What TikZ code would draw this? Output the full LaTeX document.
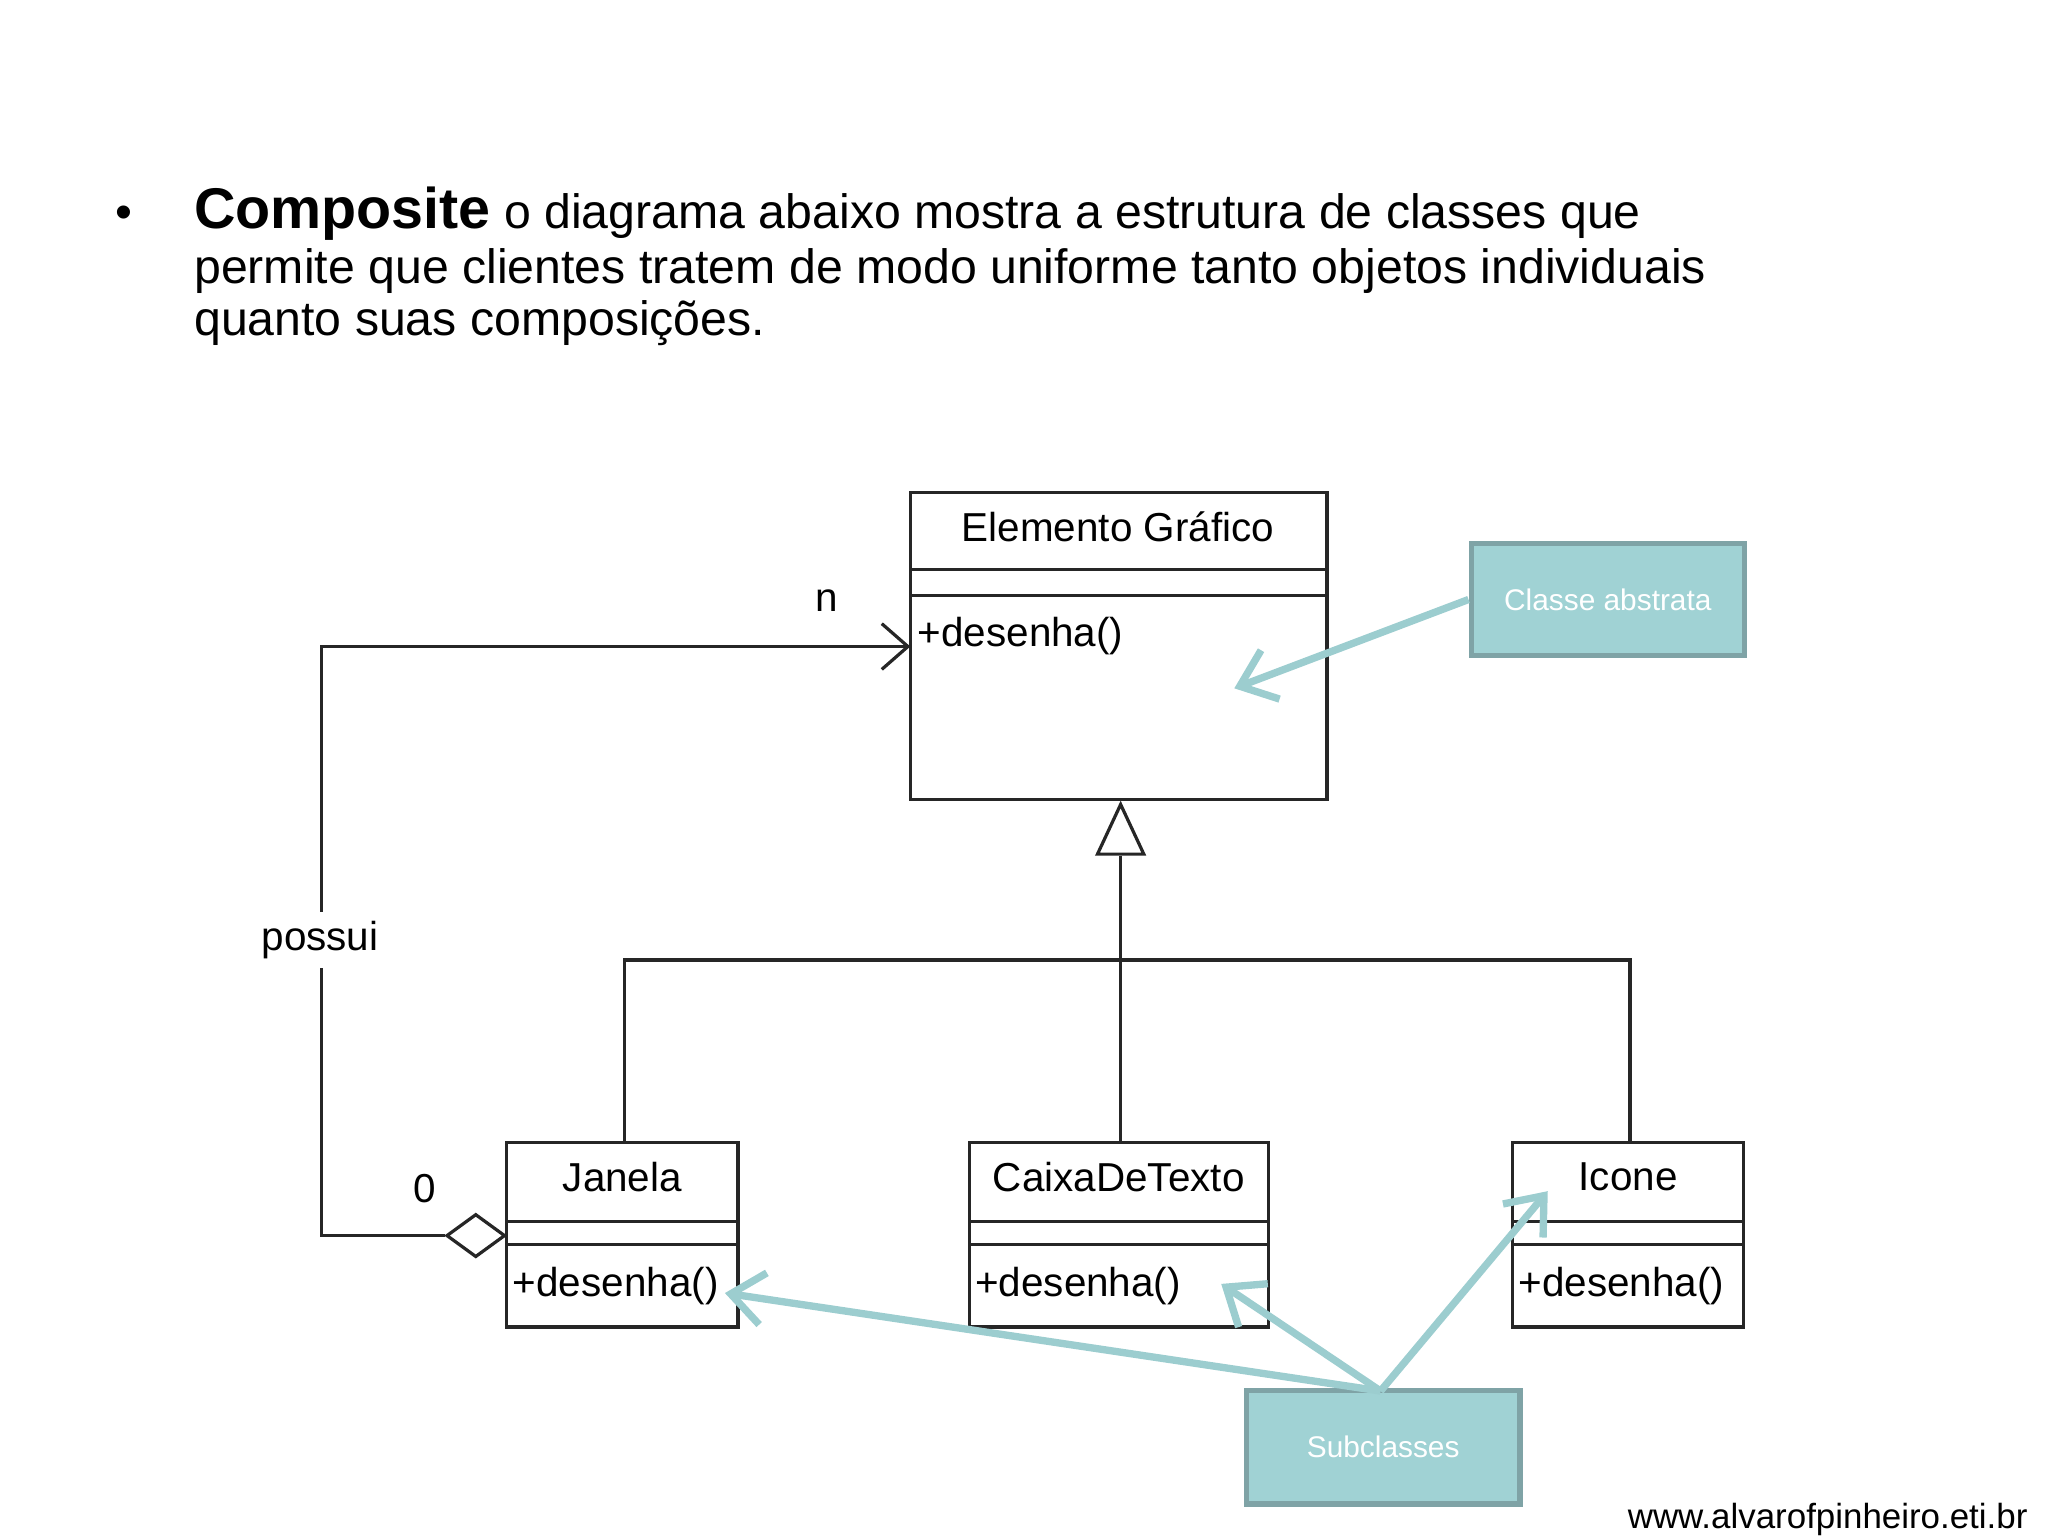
\documentclass[tikz,border=0pt]{standalone}
\usepackage{fontspec}
\setmainfont{Liberation Sans}
\usetikzlibrary{arrows.meta,shapes.geometric}
\definecolor{callfill}{HTML}{A0D2D4}
\definecolor{calldraw}{HTML}{7FA3A6}
\definecolor{callarrow}{HTML}{9CCDCF}
\begin{document}
\begin{tikzpicture}[x=0.01cm,y=-0.01cm,
  uml/.style={draw=black!85,line width=0.7pt},
  umltxt/.style={font=\fontsize{8.8}{10}\selectfont,inner sep=0pt},
  callbox/.style={draw=calldraw,fill=callfill,line width=1.2pt,text=white,font=\fontsize{6.5}{8}\selectfont},
  callarr/.style={draw=callarrow,line width=1.6pt,-{Straight Barb[length=2.5mm,width=4mm]}}]
\useasboundingbox (0,0) rectangle (1568,1176);
% heading
\node[anchor=base west,inner sep=0pt,font=\fontsize{10.5}{12}\selectfont] (bul) at (88,175) {•};
\node[anchor=base west,inner sep=0pt,font=\fontsize{10.5}{12}\selectfont] (l1) at (148,175) {\fontsize{12.5}{14}\selectfont\bfseries Composite\fontsize{10.5}{12}\selectfont\mdseries{} o diagrama abaixo mostra a estrutura de classes que};
\node[anchor=base west,inner sep=0pt,font=\fontsize{10.5}{12}\selectfont] (l2) at (148,217) {permite que clientes tratem de modo uniforme tanto objetos individuais};
\node[anchor=base west,inner sep=0pt,font=\fontsize{10.5}{12}\selectfont] (l3) at (148,257) {quanto suas composições.};
% Elemento Grafico
\draw[uml] (697,377) rectangle (1016,612);
\draw[uml] (697,436) -- (1016,436) (697,456) -- (1016,456);
\node[umltxt] (eg) at (856,403) {Elemento Gráfico};
\node[umltxt,anchor=west] (egm) at (702,487) {+desenha()};
\coordinate (egl) at (697,495);
% subclass boxes
\foreach \x/\w/\n/\name in {388/177/Janela/jan,742/229/CaixaDeTexto/cdt,1158/177/Icone/ico}{
  \draw[uml] (\x,875) rectangle (\x+\w,1016);
  \draw[uml] (\x,935) -- (\x+\w,935) (\x,953) -- (\x+\w,953);
  \node[umltxt] (\name) at (\x+\w/2,901) {\n};
  \node[umltxt,anchor=west] (\name m) at (\x+4,985) {+desenha()};
}
% generalization
\node[draw=black!85,line width=0.7pt,isosceles triangle,shape border rotate=90,isosceles triangle apex angle=50,minimum height=0.38cm,inner sep=0pt,anchor=apex,fill=white] (tri) at (858,613) {};
\draw[uml] (tri.south) -- (858,735);
\draw[uml] (478,875) -- (478,735) -- (1248,735) -- (1248,875);
\draw[uml] (858,735) -- (858,875);
% aggregation
\node[draw=black!85,line width=0.7pt,diamond,minimum width=0.45cm,minimum height=0.33cm,inner sep=0pt,anchor=east,fill=white] (dia) at (388,946) {};
\draw[uml,-{Straight Barb[length=2mm,width=3.5mm]}] (dia.west) -- (246,946) -- (246,495) -- (egl);
\node[umltxt,fill=white,inner sep=2pt] (pos) at (245,720) {possui};
\node[umltxt] (nn) at (633,460) {n};
\node[umltxt] (zero) at (325,910) {0};
% callouts
\node[callbox,minimum width=2.09cm,minimum height=0.86cm] (ca) at (1231,459) {Classe abstrata};
\coordinate (cat) at (945,527);
\draw[callarr] (ca.west) -- (cat);
\node[callbox,minimum width=2.09cm,minimum height=0.87cm] (sub) at (1059,1108) {Subclasses};
\coordinate (s1) at (555,990);
\coordinate (s2) at (935,983);
\coordinate (s3) at (1185,912);
\draw[callarr] (1057,1065) -- (s1);
\draw[callarr] (1057,1065) -- (s2);
\draw[callarr] (1057,1065) -- (s3);
\node[anchor=base east,inner sep=0pt,font=\fontsize{7.6}{9}\selectfont] (url) at (1553,1170) {www.alvarofpinheiro.eti.br};
\end{tikzpicture}
\end{document}
